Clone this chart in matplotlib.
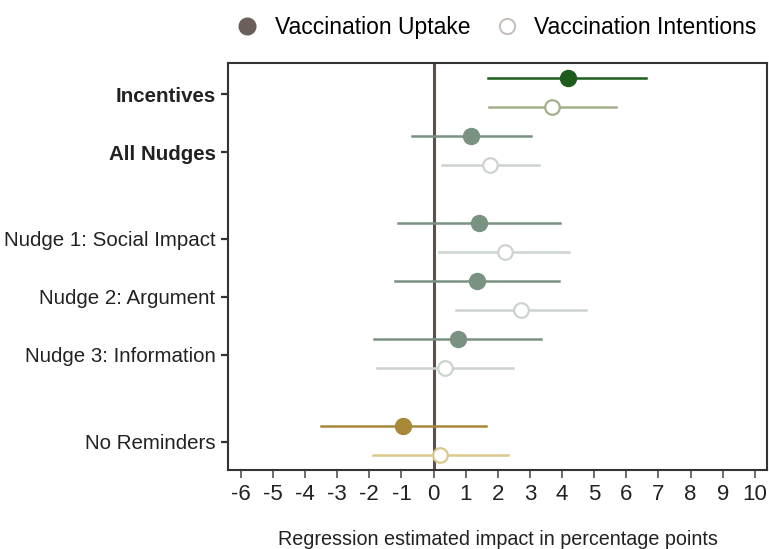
import matplotlib.pyplot as plt
from matplotlib.lines import Line2D
import numpy as np

plt.rcParams['font.family'] = ['Liberation Sans', 'DejaVu Sans']

# ==========================================
# DATA
# ==========================================
groups = ['Incentives', 'All Nudges', 'Nudge 1: Social Impact',
          'Nudge 2: Argument', 'Nudge 3: Information', 'No Reminders']
group_pos = [0, 2, 5, 7, 9, 12]
bold_groups = ['Incentives', 'All Nudges']

uptake_est = [4.17, 1.16, 1.41, 1.35, 0.75, -0.94]
uptake_lo = [1.70, -0.68, -1.11, -1.19, -1.85, -3.52]
uptake_hi = [6.62, 3.02, 3.94, 3.89, 3.34, 1.64]

intent_est = [3.70, 1.75, 2.21, 2.71, 0.35, 0.20]
intent_lo = [1.74, 0.26, 0.18, 0.71, -1.77, -1.89]
intent_hi = [5.68, 3.28, 4.23, 4.73, 2.48, 2.31]

uptake_colors = ['#1d5c1d', '#7a9282', '#7a9282', '#7a9282', '#7a9282', '#a8893a']
intent_colors = ['#a4b08c', '#cdd3cd', '#cdd3cd', '#cdd3cd', '#cdd3cd', '#dcc78e']

x_ticks = list(range(-6, 11))

# ==========================================
# PLOT
# ==========================================
fig = plt.figure(figsize=(7.69, 5.49), dpi=100)
ax = fig.add_axes([0.2965, 0.1439, 0.7009, 0.7413])

ax.axvline(0, color='#5a4f4c', lw=2.2, zorder=1)

for i, pos in enumerate(group_pos):
    y_up = pos - 0.55
    y_in = pos + 0.45
    ax.plot([uptake_lo[i], uptake_hi[i]], [y_up, y_up], color=uptake_colors[i], lw=1.8, zorder=2)
    ax.plot(uptake_est[i], y_up, 'o', color=uptake_colors[i], ms=11.5, zorder=3)
    ax.plot([intent_lo[i], intent_hi[i]], [y_in, y_in], color=intent_colors[i], lw=1.8, zorder=2)
    ax.plot(intent_est[i], y_in, 'o', mfc='white', mec=intent_colors[i], mew=1.6, ms=10.5, zorder=3)

ax.set_xlim(-6.4, 10.38)
ax.set_ylim(12.97, -1.07)

ax.set_xticks(x_ticks)
ax.set_xticklabels([str(t) for t in x_ticks], fontsize=16, color='#222222')
ax.set_yticks(group_pos)
ax.set_yticklabels(groups, fontsize=14.8, color='#222222')
for lab in ax.get_yticklabels():
    if lab.get_text() in bold_groups:
        lab.set_fontweight('bold')

ax.tick_params(axis='x', length=6, width=1.2, color='#555555', pad=4)
ax.tick_params(axis='y', length=5, width=1.6, color='#333333', pad=4)

for sp in ax.spines.values():
    sp.set_color('#333333')
    sp.set_linewidth(1.5)

ax.set_xlabel('Regression estimated impact in percentage points', fontsize=14.2,
              color='#222222', labelpad=18)

handles = [
    Line2D([], [], marker='o', ls='none', color='#6b5f5c', ms=12),
    Line2D([], [], marker='o', ls='none', mfc='white', mec='#c4bdb9', mew=1.4, ms=11),
]
fig.legend(handles, ['Vaccination Uptake', 'Vaccination Intentions'],
           loc='center', bbox_to_anchor=(0.638, 0.949), ncol=2, frameon=False,
           fontsize=16.5, handletextpad=0.2, columnspacing=0.6)

plt.savefig('out.png', dpi=100)
